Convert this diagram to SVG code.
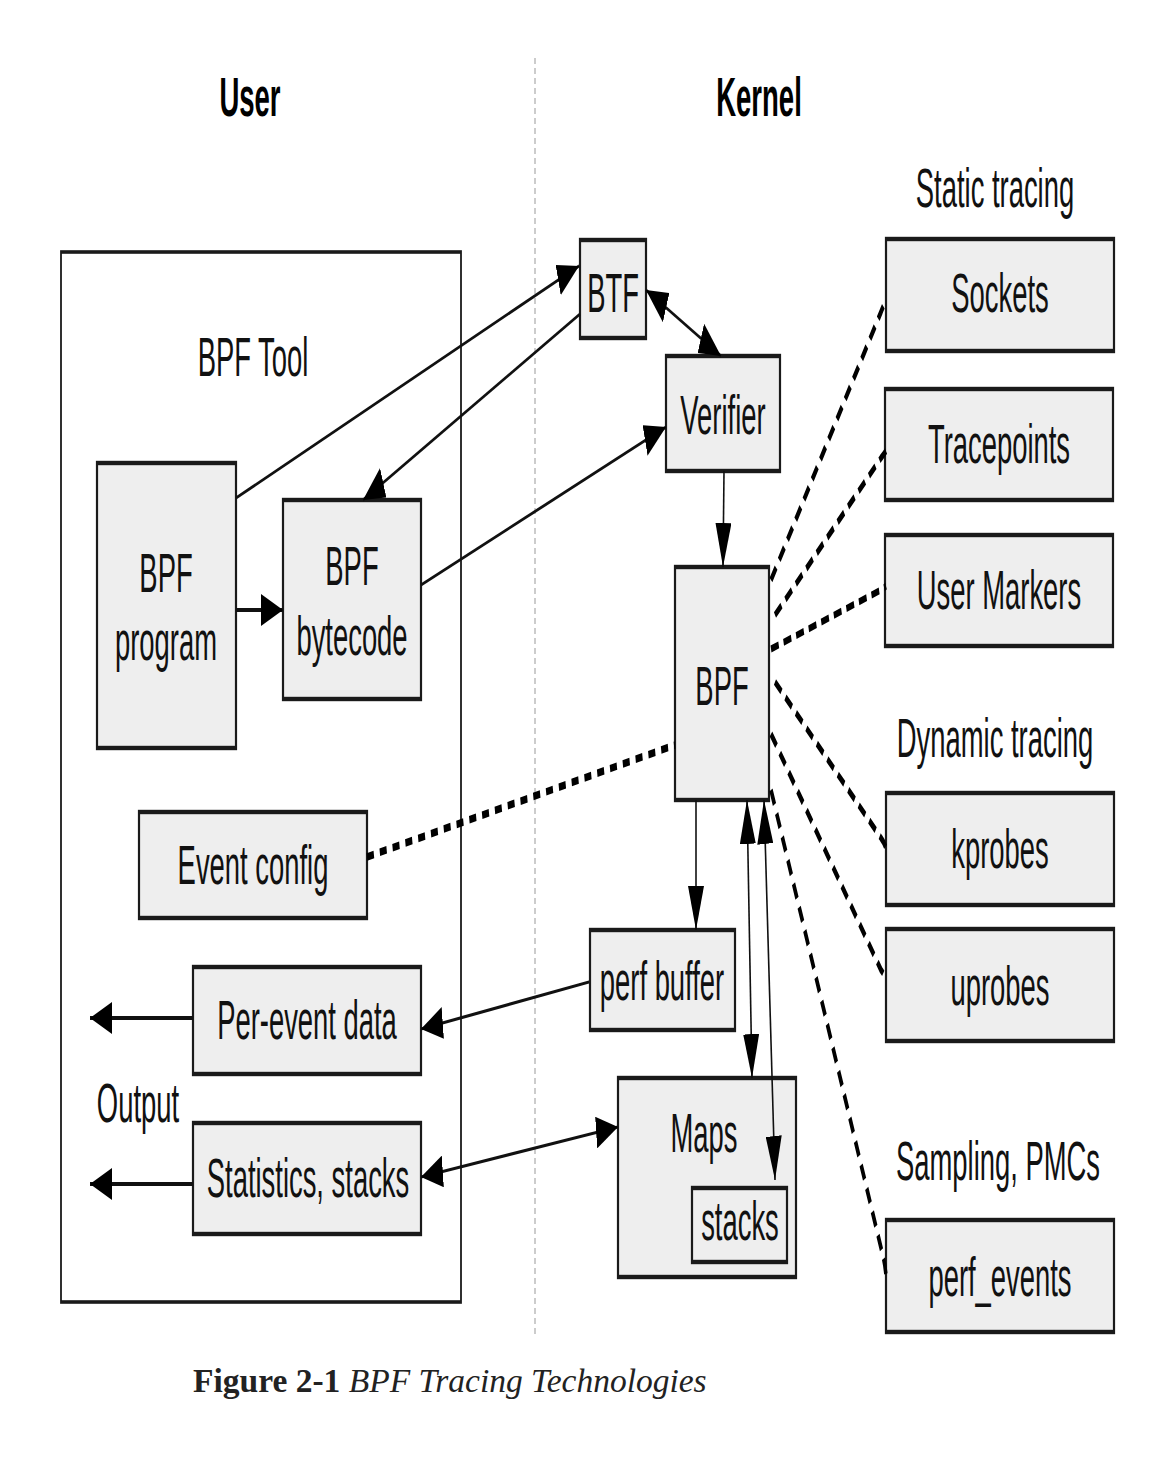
<svg xmlns="http://www.w3.org/2000/svg" width="1176" height="1460" viewBox="0 0 1176 1460">
<style>
.box{fill:#eeeeee;stroke:#1a1a1a;stroke-width:2.2}
.outer{fill:#ffffff;stroke:#1a1a1a;stroke-width:1.8}
.lbl{font-family:"Liberation Sans",Arial,sans-serif;font-size:27.4px;fill:#111;text-anchor:middle}
.hdr{font-family:"Liberation Sans",Arial,sans-serif;font-size:27.5px;font-weight:bold;fill:#000;text-anchor:middle}
.ln{fill:none;stroke:#111;stroke-width:1.6}
.thick{fill:none;stroke:#111;stroke-width:2}
.dash{fill:none;stroke:#000;stroke-width:3.5;stroke-dasharray:8 5}
.dot{fill:none;stroke:#000;stroke-width:3.8;stroke-dasharray:7 6}
.div{fill:none;stroke:#9a9a9a;stroke-width:1;stroke-dasharray:3 2}
.cap{font-family:"Liberation Serif","Times New Roman",serif;font-size:33.5px;fill:#222}
</style>
<defs>
<marker id="ah" viewBox="0 0 22 16" refX="22" refY="8" markerWidth="22" markerHeight="16" markerUnits="userSpaceOnUse" orient="auto-start-reverse">
<path d="M0,0 L22,8 L0,16 z" fill="#000"/>
</marker>
</defs>
<rect x="0" y="0" width="1176" height="1460" fill="#ffffff"/>
<g transform="scale(1,2)">
<path class="div" d="M535,29 L535,669"/>
<text class="hdr" x="250" y="58">User</text>
<text class="hdr" x="759" y="58">Kernel</text>
<g id="bpf-tool">
<rect class="outer" x="61" y="126" width="400" height="525"/>
<text class="lbl" x="253" y="188">BPF Tool</text>
</g>
<text class="lbl" x="995" y="103.5">Static tracing</text>
<text class="lbl" x="995" y="378.5">Dynamic tracing</text>
<text class="lbl" x="998" y="590">Sampling, PMCs</text>
<text class="lbl" x="138" y="561">Output</text>
<g id="bpf-program"><rect class="box" x="97" y="231.5" width="139" height="142.5"/><text class="lbl" x="166" y="296">BPF</text><text class="lbl" x="166" y="330">program</text></g>
<g id="bpf-bytecode"><rect class="box" x="283" y="250" width="138" height="99.5"/><text class="lbl" x="352" y="292.5">BPF</text><text class="lbl" x="352" y="327.5">bytecode</text></g>
<g id="btf"><rect class="box" x="580" y="120" width="66" height="49"/><text class="lbl" x="613" y="156">BTF</text></g>
<g id="verifier"><rect class="box" x="666" y="178" width="114" height="57.5"/><text class="lbl" x="723" y="217">Verifier</text></g>
<g id="bpf"><rect class="box" x="675" y="283.5" width="94" height="116.5"/><text class="lbl" x="722" y="352.5">BPF</text></g>
<g id="sockets"><rect class="box" x="886" y="119.5" width="228" height="56"/><text class="lbl" x="1000" y="156">Sockets</text></g>
<g id="tracepoints"><rect class="box" x="885" y="194.5" width="228" height="55.5"/><text class="lbl" x="999" y="231.5">Tracepoints</text></g>
<g id="user-markers"><rect class="box" x="885" y="267.5" width="228" height="55.5"/><text class="lbl" x="999" y="304.5">User Markers</text></g>
<g id="kprobes"><rect class="box" x="886" y="396.5" width="228" height="56"/><text class="lbl" x="1000" y="434">kprobes</text></g>
<g id="uprobes"><rect class="box" x="886" y="464.5" width="228" height="56"/><text class="lbl" x="1000" y="502.5">uprobes</text></g>
<g id="perf-events"><rect class="box" x="886" y="610" width="228" height="56"/><text class="lbl" x="1000" y="648">perf_events</text></g>
<g id="perf-buffer"><rect class="box" x="590" y="465" width="145" height="50"/><text class="lbl" x="662" y="500">perf buffer</text></g>
<g id="maps"><rect class="box" x="618" y="539" width="178" height="99.5"/><text class="lbl" x="704" y="576">Maps</text>
<g id="stacks"><rect class="box" x="692" y="594" width="95" height="37"/><text class="lbl" x="740" y="620">stacks</text></g></g>
<g id="event-config"><rect class="box" x="139" y="406" width="228" height="53"/><text class="lbl" x="253" y="442">Event config</text></g>
<g id="per-event-data"><rect class="box" x="193" y="483.5" width="228" height="53.5"/><text class="lbl" x="307" y="519.5">Per-event data</text></g>
<g id="statistics-stacks"><rect class="box" x="193" y="561.5" width="228" height="55.5"/><text class="lbl" x="308" y="598.5">Statistics, stacks</text></g>
<g id="connectors">
<path class="ln" d="M236,249 L579,133" marker-end="url(#ah)"/>
<path class="ln" d="M580,157 L363,250" marker-end="url(#ah)"/>
<path class="thick" d="M236,305 L283,305" marker-end="url(#ah)"/>
<path class="ln" d="M421,292.5 L666,213.5" marker-end="url(#ah)"/>
<path class="ln" d="M646,145 L721,178" marker-start="url(#ah)" marker-end="url(#ah)"/>
<path class="ln" d="M724,235.5 L723,283.5" marker-end="url(#ah)"/>
<path class="ln" d="M696,400 L696,465" marker-end="url(#ah)"/>
<path class="ln" d="M747,400 L752,539" marker-start="url(#ah)" marker-end="url(#ah)"/>
<path class="ln" d="M764,400 L775,590" marker-start="url(#ah)" marker-end="url(#ah)"/>
<path class="ln" d="M589,491 L421,514.5" marker-end="url(#ah)"/>
<path class="ln" d="M421,588.5 L618,563.5" marker-start="url(#ah)" marker-end="url(#ah)"/>
<path class="thick" d="M193,509 L90,509" marker-end="url(#ah)"/>
<path class="thick" d="M193,592 L90,592" marker-end="url(#ah)"/>
<path class="dot" d="M367,428.5 L675,372.5"/>
<path class="dash" d="M771,290 L881,156 Q884,152 886,150.5"/>
<path class="dash" d="M775,307.5 L881,229 Q884,227 886,225.5"/>
<path class="dash" d="M771,324.5 L881,295 Q884,294 886,293"/>
<path class="dash" d="M775,341 L881,419 Q884,421 886,424"/>
<path class="dash" d="M771,367 L881,485 Q884,487 886,489.5"/>
<path class="dash" d="M771,395 L883,628 Q885,632 886,638"/>
</g>
</g>
<text class="cap" x="193" y="1392"><tspan font-weight="bold">Figure 2-1</tspan> <tspan font-style="italic">BPF Tracing Technologies</tspan></text>
</svg>
